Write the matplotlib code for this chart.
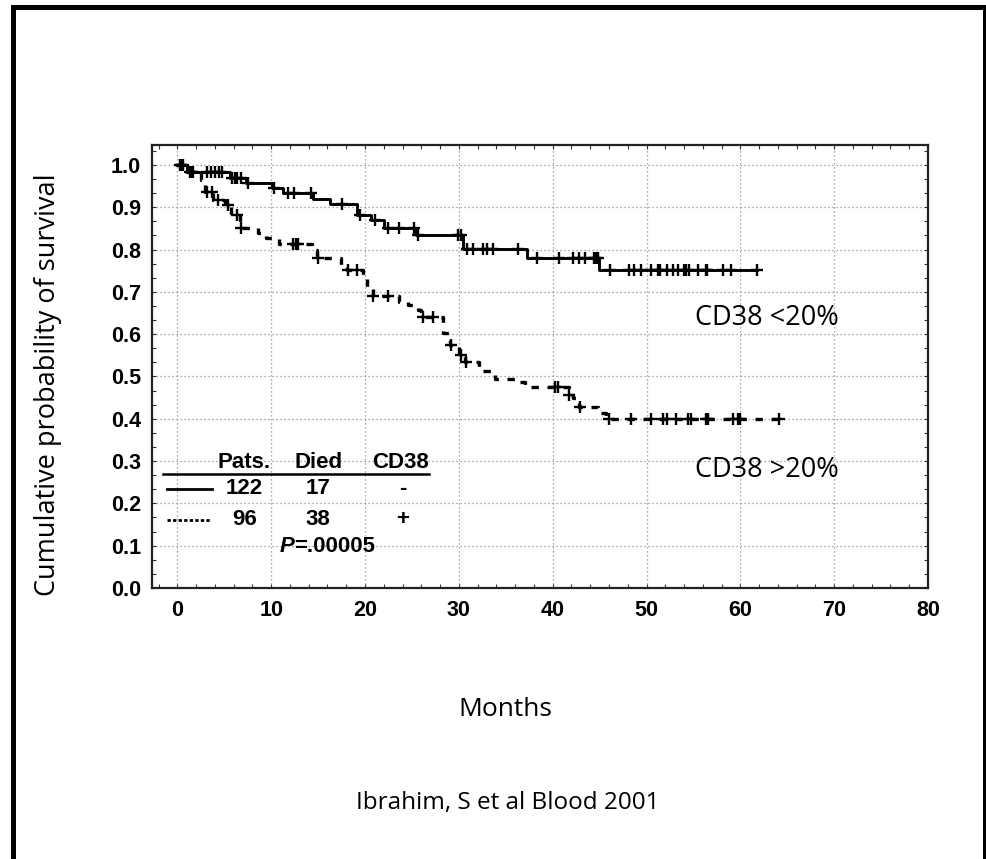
import numpy as np
import matplotlib
matplotlib.use("Agg")
import matplotlib.pyplot as plt
from matplotlib.patches import Rectangle
from matplotlib.ticker import MultipleLocator

# Kaplan-Meier step data: event times (months) and survival after each step
low_times = [0, 1.0, 5.6, 7.3, 10.1, 11.3, 14.5, 16.3, 19.2, 20.6, 22.0,
             25.4, 30.4, 37.3, 44.9, 61.8]
low_surv = [1.0, 0.983, 0.969, 0.957, 0.945, 0.934, 0.920, 0.908, 0.882,
            0.870, 0.851, 0.835, 0.801, 0.780, 0.752, 0.752]
low_censored = [0.3, 0.6, 1.4, 1.7, 3.2, 3.6, 4.0, 4.4, 4.8, 5.8, 6.1, 6.4,
                6.8, 7.5, 10.3, 11.8, 12.4, 14.2, 17.6, 19.5, 21.1, 22.4,
                23.6, 25.2, 25.6, 29.9, 30.2, 30.9, 31.5, 32.6, 33.0, 33.6,
                36.3, 38.3, 40.7, 42.2, 42.8, 43.4, 44.4, 44.6, 44.8, 46.1,
                48.1, 48.7, 49.4, 50.5, 51.2, 51.4, 52.2, 52.8, 53.4, 54.0,
                54.2, 54.5, 55.5, 56.3, 56.4, 58.1, 59.0, 61.8]

high_times = [0, 1.0, 2.5, 3.0, 3.8, 5.1, 5.7, 6.7, 8.6, 9.4, 10.8, 14.4,
              14.9, 17.4, 18.1, 19.8, 20.2, 20.8, 23.6, 24.6, 25.6, 26.0,
              28.3, 29.1, 30.0, 30.7, 32.1, 33.9, 36.4, 37.1, 41.7, 42.2,
              42.8, 44.8, 45.7, 64.3]
high_surv = [1.0, 0.983, 0.965, 0.936, 0.917, 0.905, 0.882, 0.851, 0.839,
             0.827, 0.813, 0.799, 0.780, 0.764, 0.752, 0.735, 0.712, 0.690,
             0.676, 0.669, 0.657, 0.640, 0.603, 0.574, 0.551, 0.534, 0.513,
             0.494, 0.487, 0.475, 0.456, 0.449, 0.428, 0.414, 0.400, 0.400]
high_censored = [0.4, 1.6, 3.2, 3.7, 4.3, 5.4, 6.4, 6.8, 12.3, 12.6, 12.9,
                 15.0, 18.2, 19.2, 20.9, 22.4, 26.2, 27.3, 29.2, 30.2, 30.8,
                 40.2, 40.6, 41.7, 42.9, 46.0, 48.3, 50.5, 51.8, 52.2, 53.1,
                 54.4, 54.7, 56.3, 56.6, 59.2, 59.8, 60.0, 64.1]

# Summary table
table_header = ["Pats.", "Died", "CD38"]
patients = [122, 96]
died = [17, 38]
cd38_sign = ["-", "+"]
p_value = ".00005"

x_ticks = [0, 10, 20, 30, 40, 50, 60, 70, 80]
y_ticks = [0.0, 0.1, 0.2, 0.3, 0.4, 0.5, 0.6, 0.7, 0.8, 0.9, 1.0]

W, H = 987, 859
fig = plt.figure(figsize=(W / 100, H / 100), dpi=100)
fig.patch.set_facecolor("white")

ax = fig.add_axes([152 / W, 1 - 588 / H, (928 - 152) / W, (588 - 145) / H])
ax.set_xlim(-2.7, 80)
ax.set_ylim(0, 1.047)

bold = dict(family="Liberation Sans", weight="bold")
ax.set_xticks(x_ticks)
ax.set_yticks(y_ticks)
ax.set_xticklabels([str(v) for v in x_ticks], fontsize=15.5, **bold)
ax.set_yticklabels([f"{v:.1f}" for v in y_ticks], fontsize=15.5, **bold)
ax.xaxis.set_minor_locator(MultipleLocator(2))
ax.yaxis.set_minor_locator(MultipleLocator(0.1 / 3))
ax.tick_params(which="both", direction="in", top=True, right=True,
               length=3, width=0.8, color="#333333")
ax.tick_params(axis="x", which="major", pad=9)
ax.tick_params(axis="y", which="major", pad=8)
for s in ax.spines.values():
    s.set_linewidth(1.6)
    s.set_color("#222222")

ax.grid(True, which="major", linestyle=(0, (1, 2.2)), color="#8a8a8a",
        linewidth=0.9)
ax.set_axisbelow(True)


def censor_levels(times, surv, cens):
    idx = np.searchsorted(np.asarray(times), np.asarray(cens), side="right") - 1
    return np.asarray(surv)[idx]


ax.step(low_times, low_surv, where="post", color="black", linewidth=2.1,
        zorder=3)
ax.plot(low_censored, censor_levels(low_times, low_surv, low_censored),
        linestyle="none", marker="+", markersize=8.5, markeredgewidth=1.7,
        color="black", zorder=4)

ax.step(high_times, high_surv, where="post", color="black", linewidth=2.4,
        linestyle=(0, (2.2, 2.6)), zorder=3)
ax.plot(high_censored, censor_levels(high_times, high_surv, high_censored),
        linestyle="none", marker="+", markersize=8.5, markeredgewidth=1.7,
        color="black", zorder=4)

# Summary table drawn inside the plot area
tfs = 16
col_x = [7.15, 15.0, 23.8]
for cx, h in zip(col_x, table_header):
    ax.text(cx, 0.2955, h, ha="center", va="center", fontsize=tfs, **bold)
ax.plot([-1.5, 26.8], [0.2695, 0.2695], color="black", linewidth=1.8)
row_y = [0.234, 0.161]
ax.plot([-1.07, 3.73], [row_y[0], row_y[0]], color="black", linewidth=2.0)
ax.plot([-1.07, 3.5], [row_y[1], row_y[1]], color="black", linewidth=2.0,
        linestyle=(0, (1.2, 0.8)))
for ry, n, d, s in zip(row_y, patients, died, cd38_sign):
    ax.text(7.15, ry, str(n), ha="center", va="center", fontsize=tfs, **bold)
    ax.text(15.0, ry, str(d), ha="center", va="center", fontsize=tfs, **bold)
    ax.text(24.0, ry, s, ha="center", va="center", fontsize=tfs, **bold)
ax.text(12.45, 0.099, "P", ha="right", va="center", fontsize=tfs,
        family="Liberation Sans", weight="bold", style="italic")
ax.text(12.45, 0.099, "=" + p_value, ha="left", va="center", fontsize=tfs,
        **bold)

label_font = dict(family="Open Sans", color="black")
ax.text(62.8, 0.639, "CD38 <20%", ha="center", va="center", fontsize=19.5,
        **label_font)
ax.text(62.8, 0.279, "CD38 >20%", ha="center", va="center", fontsize=19.5,
        **label_font)

fig.text(505 / W, 1 - 709 / H, "Months", ha="center", va="center",
         fontsize=19, **label_font)
fig.text(48 / W, 1 - 385 / H, "Cumulative probability of survival",
         ha="center", va="center", rotation=90, fontsize=19.5, **label_font)
fig.text(508 / W, 1 - 803 / H, "Ibrahim, S et al Blood 2001", ha="center",
         va="center", fontsize=17.5, **label_font)

# Outer frame around the whole figure
fig.patches.append(Rectangle((12.5, -2), 985 - 12.5, (H - 7) + 2,
                             transform=None, fill=False, edgecolor="black",
                             linewidth=3.6))

fig.savefig("out.png", dpi=100, facecolor="white")
